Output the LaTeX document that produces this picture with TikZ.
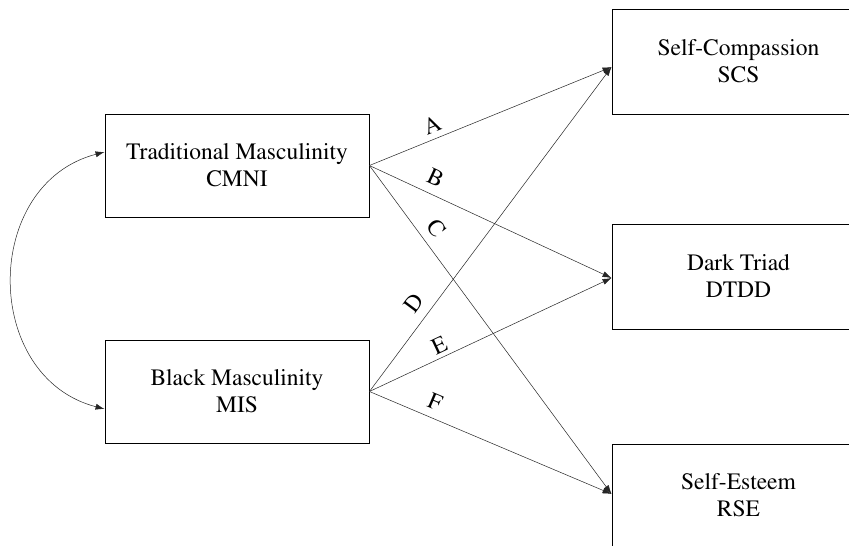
\documentclass[tikz,border=0pt]{standalone}
\usepackage[T1]{fontenc}
\usepackage{times}
\usetikzlibrary{arrows.meta}
\begin{document}
\begin{tikzpicture}[x=1pt,y=-1pt,
  box/.style={draw=black,line width=0.9pt,align=center,inner sep=0pt,
    font=\fontsize{23.5}{27}\selectfont},
  lbox/.style={box,minimum width=264pt,minimum height=103pt},
  rbox/.style={box,minimum width=253pt,minimum height=105pt},
  conn/.style={draw=black!85,line width=0.5pt,-{Latex[length=9pt,width=6pt]}},
  lab/.style={sloped,inner sep=1pt,font=\fontsize{23.5}{26}\selectfont}]
\useasboundingbox (0,0) rectangle (849,546);
\clip (0,0) rectangle (849,546);
\fill[white] (0,0) rectangle (849,546);
\node[lbox] (tm) at (237,165.5) {Traditional Masculinity\\CMNI};
\node[lbox] (bm) at (237,391.5) {Black Masculinity\\MIS};
\node[rbox] (sc) at (738.5,61.5) {Self-Compassion\\SCS};
\node[rbox] (dt) at (738.5,276.5) {Dark Triad\\DTDD};
\node[rbox,minimum height=103pt] (se) at (738.5,495.5) {Self-Esteem\\RSE};
\draw[conn] (tm.east) -- node[lab,pos=.28,above=5pt]{A} ([yshift=-5.5pt]sc.west);
\draw[conn] (tm.east) -- node[lab,pos=.245,above=7.5pt]{B} ([yshift=-1.5pt]dt.west);
\draw[conn] (tm.east) -- node[lab,pos=.22,above=7.5pt]{C} ([yshift=1.5pt]se.west);
\draw[conn] (bm.east) -- node[lab,pos=.24,above=8.5pt]{D} ([yshift=-5.5pt]sc.west);
\draw[conn] (bm.east) -- node[lab,pos=.31,above=3pt]{E} ([yshift=-1.5pt]dt.west);
\draw[conn] (bm.east) -- node[lab,pos=.245,above=7.5pt]{F} ([yshift=1.5pt]se.west);
\draw[conn,{Latex[length=9pt,width=6pt]}-{Latex[length=9pt,width=6pt]}]
  ([yshift=13.5pt]tm.west) .. controls +(-123,32) and +(-123,-32) .. ([yshift=-17.5pt]bm.west);
\end{tikzpicture}
\end{document}
